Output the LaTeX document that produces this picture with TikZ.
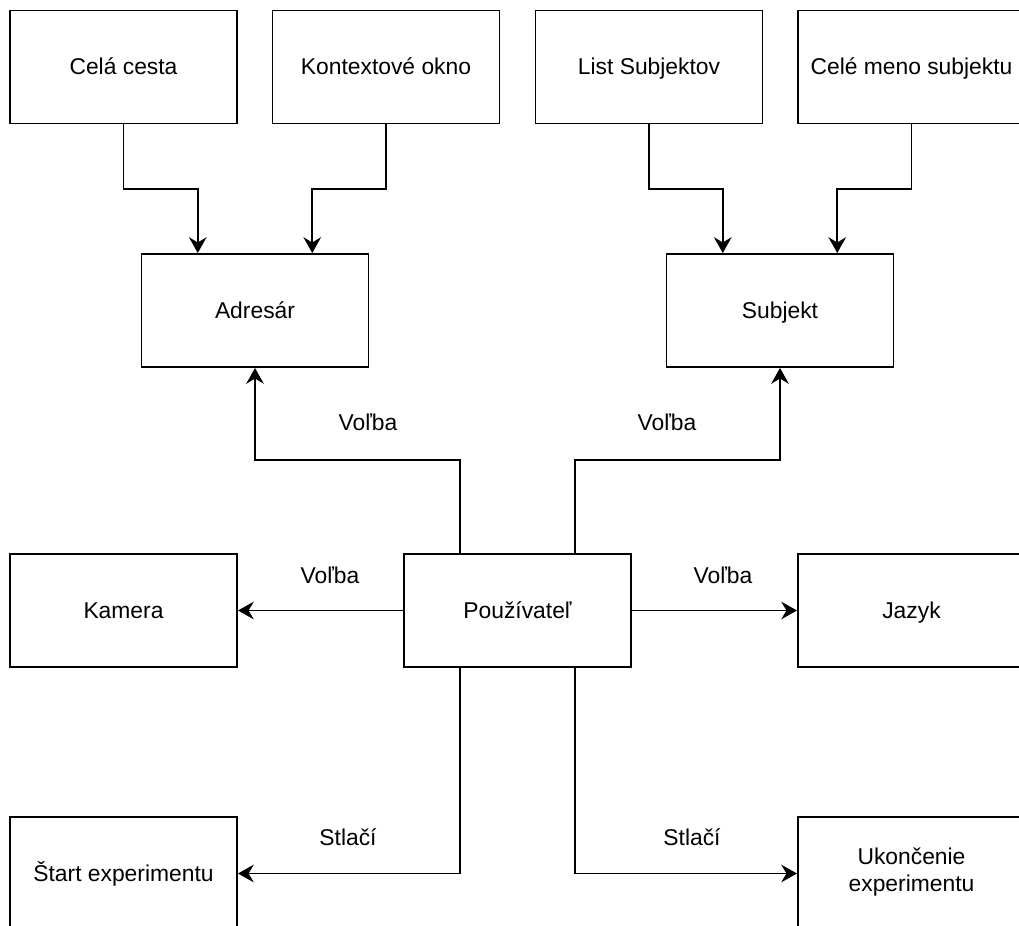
\documentclass[tikz,border=0pt]{standalone}
\usepackage{fontspec}
\setmainfont{Liberation Sans}
\usetikzlibrary{arrows.meta,positioning,calc}

\begin{document}
\begin{tikzpicture}[x=0.02cm,y=-0.02cm,line width=1.1pt,font=\fontsize{13}{15.6}\selectfont]
	\tikzstyle{box}=[draw,rectangle,minimum width=4.54cm,minimum height=2.26cm,inner sep=1pt,align=center,text height=0.9em,text depth=0em]
	\tikzstyle{arr}=[-{Stealth[length=9pt,width=10pt,inset=3pt]}]
	\useasboundingbox (0,0) rectangle (1019,926);
	\clip (0,0) rectangle (1019,926);

	% horny rad
	\node[box] (cesta) at (123.5,67) {Celá cesta};
	\node[box] (okno) at (386,67) {Kontextové okno};
	\node[box] (list) at (649,67) {List Subjektov};
	\node[box] (meno) at (911.5,67) {Celé meno subjektu};

	\node[box] (adresar) at (255,310.5) {Adresár};
	\node[box] (subjekt) at (780,310.5) {Subjekt};

	\node[box] (pouz) at (517.5,610.5) {Používateľ};
	\node[box] (kamera) at (123.5,610.5) {Kamera};
	\node[box] (jazyk) at (911.5,610.5) {Jazyk};

	\node[box] (start) at (123.5,873.5) {Štart experimentu};
	\node[box,text height=2.1em] (koniec) at (911.5,873.5) {Ukončenie\\experimentu};

	% vstupy do adresara a subjektu
	\draw[arr] (cesta.south) -- ++(0,65) -| ($(adresar.north west)!0.25!(adresar.north east)$);
	\draw[arr] (okno.south) -- ++(0,65) -| ($(adresar.north west)!0.75!(adresar.north east)$);
	\draw[arr] (list.south) -- ++(0,65) -| ($(subjekt.north west)!0.25!(subjekt.north east)$);
	\draw[arr] (meno.south) -- ++(0,65) -| ($(subjekt.north west)!0.75!(subjekt.north east)$);

	% volby pouzivatela
	\draw[arr] ($(pouz.north west)!0.25!(pouz.north east)$) -- ++(0,-93) -| (adresar.south);
	\draw[arr] ($(pouz.north west)!0.75!(pouz.north east)$) -- ++(0,-93) -| (subjekt.south);
	\draw[arr] (pouz.west) -- (kamera.east);
	\draw[arr] (pouz.east) -- (jazyk.west);
	\draw[arr] ($(pouz.south west)!0.25!(pouz.south east)$) |- (start.east);
	\draw[arr] ($(pouz.south west)!0.75!(pouz.south east)$) |- (koniec.west);

	\node (volbaA) at (368,422) {Voľba};
	\node (volbaS) at (667,422) {Voľba};
	\node (volbaK) at (330,575) {Voľba};
	\node (volbaJ) at (723,575) {Voľba};
	\node (stlacS) at (348,837) {Stlačí};
	\node (stlacU) at (692,837) {Stlačí};
\end{tikzpicture}
\end{document}
